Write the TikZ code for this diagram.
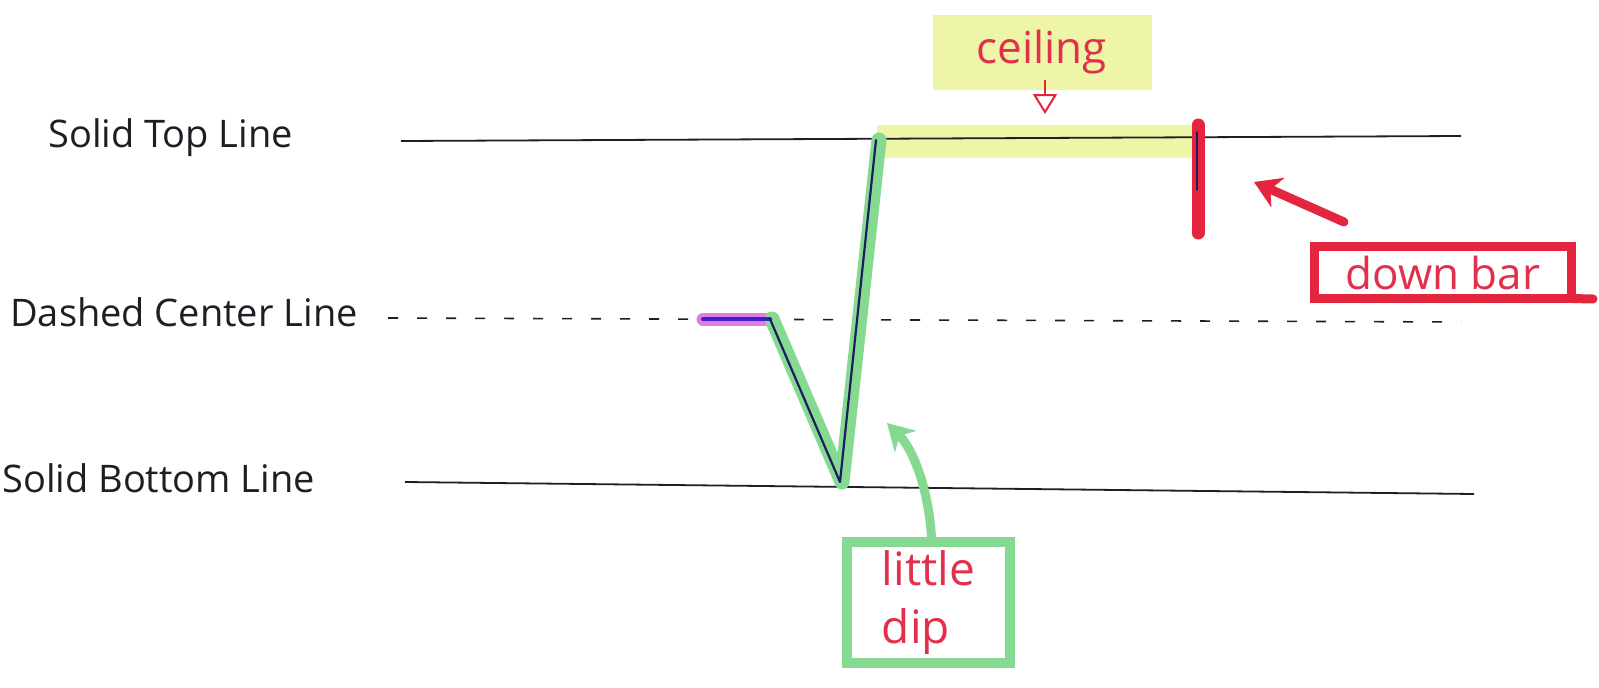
\documentclass[tikz,border=0pt]{standalone}
\usepackage{fontspec}
\setmainfont{Open Sans}
\usetikzlibrary{arrows.meta}
\definecolor{ink}{HTML}{1E1E24}
\definecolor{redpen}{HTML}{E3263E}
\definecolor{redtext}{HTML}{E2304C}
\definecolor{greenhl}{HTML}{86D991}
\definecolor{yellowhl}{HTML}{EEF5A6}
\definecolor{pinkhl}{HTML}{E47AE4}
\definecolor{navy}{HTML}{1C1C5E}
\definecolor{bluepen}{HTML}{3A22C8}
\begin{document}
\begin{tikzpicture}[x=1pt,y=-1pt,
  lbl/.style={font=\fontsize{38}{44}\selectfont, text=ink, inner sep=0pt, anchor=west},
  rlbl/.style={font=\fontsize{44}{56}\selectfont, text=redtext},
  guide/.style={draw=ink, line width=1.8pt},
  dashguide/.style={draw=ink, line width=1.6pt, dash pattern=on 10pt off 19pt},
  hl/.style={line width=#1, line cap=round, line join=round},
  redbox/.style={draw=redpen, line width=9pt, inner sep=0pt},
  greenbox/.style={draw=greenhl, line width=10pt, inner sep=0pt}]
\useasboundingbox[fill=white] (0,0) rectangle (1599,688);

% labels
\node[lbl] (toplbl) at (48,138) {Solid Top Line};
\node[lbl] (midlbl) at (10,312) {Dashed Center Line};
\node[lbl] (botlbl) at (2,478) {Solid Bottom Line};

% ceiling highlight and label
\fill[yellowhl] (877,125) rectangle (1198,158);
\node[fill=yellowhl, minimum width=219pt, minimum height=75pt, rlbl, inner sep=0pt] (ceil) at (1042,52) {ceiling};
\coordinate (ceilTip) at (1045,114);
\draw[redpen, line width=2pt, -{Triangle[open, length=20pt, width=24pt]}] ([xshift=3pt, yshift=10pt]ceil.south) -- (ceilTip);

% guide lines
\coordinate (t1) at (401,141); \coordinate (t2) at (1461,136);
\coordinate (m1) at (388,318); \coordinate (m2) at (1461,322);
\coordinate (b1) at (405,482); \coordinate (b2) at (1474,494);
\draw[guide] (t1) -- (t2);
\draw[dashguide] (m1) -- (m2);
\draw[guide] (b1) -- (b2);

% the stroke
\coordinate (p0) at (703,319);
\coordinate (p1) at (770,319);
\coordinate (p2) at (840,482);
\coordinate (p3) at (876,140);
\draw[pinkhl, hl=13pt] (p0) -- (p1);
\draw[greenhl, hl=15pt] ([xshift=2pt]p1) -- ([xshift=2pt]p2) -- ([xshift=3pt]p3);
\draw[bluepen, hl=4pt] (p0) -- (p1);
\draw[navy, hl=2.2pt] (p1) -- (p2) -- (p3);

% down bar
\coordinate (d0) at (1198,125);
\coordinate (d1) at (1198,233);
\draw[redpen, hl=13pt] (d0) -- (d1);
\draw[navy, hl=1.5pt] (1197,132) -- (1197,190);

\node[redbox, minimum width=257pt, minimum height=52pt, rlbl] (downbar) at (1443,272.5) {down bar};
\coordinate (tail) at (1593,299);
\draw[redpen, line width=9pt, line cap=round] ([xshift=-4.5pt, yshift=4.5pt]downbar.south east) -- (tail);
\coordinate (barTip) at (1254,182);
\draw[redpen, line width=9pt, line cap=round, -{Stealth[length=26pt, width=32pt, inset=8pt]}] ([xshift=34pt, yshift=20pt]downbar.north west) -- (barTip);

% little dip
\node[greenbox, minimum width=163pt, minimum height=121pt, rlbl, align=left, font=\fontsize{46}{58}\selectfont] (dip) at (928.5,602.5) {little\\dip};
\coordinate (dipTip) at (887,423);
\draw[greenhl, line width=9pt, line cap=round, -{Stealth[length=26pt, width=30pt, inset=8pt]}] ([xshift=3pt]dip.north) .. controls (928,485) and (912,448) .. (dipTip);
\end{tikzpicture}
\end{document}
